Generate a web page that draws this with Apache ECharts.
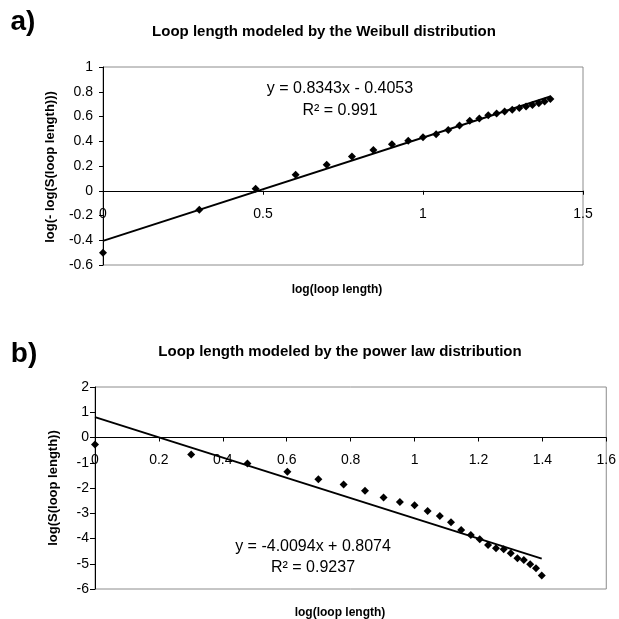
<!DOCTYPE html>
<html>
<head>
<meta charset="utf-8">
<script src="https://cdn.jsdelivr.net/npm/echarts@6/dist/echarts.min.js"></script>
<style>
  html, body { margin: 0; padding: 0; background: #fff; }
  #chart { width: 619px; height: 619px; }
</style>
</head>
<body>
<div id="chart"></div>
<script>
// log(loop length) for each loop length bin
const logLength = [0, 0.301, 0.477, 0.602, 0.699, 0.778, 0.845, 0.903, 0.954, 1.0,
  1.041, 1.079, 1.114, 1.146, 1.176, 1.204, 1.230, 1.255, 1.279, 1.301,
  1.322, 1.342, 1.362, 1.380, 1.398];

// a) log(-log(S)) values
const weibullY = [-0.50, -0.153, 0.016, 0.13, 0.21, 0.277, 0.33, 0.376, 0.405, 0.433,
  0.457, 0.49, 0.527, 0.565, 0.583, 0.61, 0.624, 0.64, 0.655, 0.668,
  0.68, 0.693, 0.707, 0.722, 0.742];

// b) log(S) values
const powerY = [-0.28, -0.67, -1.03, -1.36, -1.65, -1.86, -2.11, -2.38, -2.55, -2.68,
  -2.91, -3.11, -3.36, -3.66, -3.86, -4.03, -4.26, -4.39, -4.43, -4.58,
  -4.78, -4.85, -5.02, -5.18, -5.47];

// trend lines (Excel linear fits)
const fitA = { slope: 0.8343, intercept: -0.4053, r2: "0.991" };
const fitB = { slope: -4.0094, intercept: 0.8074, r2: "0.9237" };

const FONT = "'Liberation Sans', Arial, sans-serif";

const gridA = { left: 103, top: 67, width: 480, height: 198 };
const gridB = { left: 95, top: 387, width: 512, height: 202 };

function trend(fit) {
  const x0 = Math.min(...logLength), x1 = Math.max(...logLength);
  return [[x0, fit.slope * x0 + fit.intercept], [x1, fit.slope * x1 + fit.intercept]];
}

function eqText(fit) {
  const sign = fit.intercept < 0 ? " - " : " + ";
  return "y = " + fit.slope + "x" + sign + Math.abs(fit.intercept);
}

// pull the x axis up from the grid bottom to where y = 0 sits
function zeroOffset(grid, min, max) {
  return -grid.height * (0 - min) / (max - min);
}

function txt(text, x, y, font, rot) {
  return {
    type: "text",
    x: x, y: y,
    rotation: rot || 0,
    style: {
      text: text, x: 0, y: 0, fill: "#000", font: font,
      textAlign: "center", align: "center",
      textVerticalAlign: "middle", verticalAlign: "middle"
    },
    silent: true
  };
}

const axisLabel = { color: "#000", fontSize: 14, fontFamily: FONT };

const chart = echarts.init(document.getElementById("chart"));
chart.setOption({
  animation: false,
  backgroundColor: "#fff",
  grid: [
    Object.assign({ show: true, borderColor: "#8c8c8c", borderWidth: 1 }, gridA),
    Object.assign({ show: true, borderColor: "#8c8c8c", borderWidth: 1 }, gridB)
  ],
  xAxis: [
    {
      gridIndex: 0, type: "value", min: 0, max: 1.5, interval: 0.5,
      position: "bottom", offset: zeroOffset(gridA, -0.6, 1),
      axisLine: { onZero: false, lineStyle: { color: "#000", width: 1 } },
      axisTick: { show: true, length: 4, lineStyle: { color: "#000" } },
      axisLabel: Object.assign({ margin: 16 }, axisLabel),
      splitLine: { show: false }
    },
    {
      gridIndex: 1, type: "value", min: 0, max: 1.6, interval: 0.2,
      position: "bottom", offset: zeroOffset(gridB, -6, 2),
      axisLine: { onZero: false, lineStyle: { color: "#000", width: 1 } },
      axisTick: { show: true, length: 4, lineStyle: { color: "#000" } },
      axisLabel: Object.assign({ margin: 16 }, axisLabel),
      splitLine: { show: false }
    }
  ],
  yAxis: [
    {
      gridIndex: 0, type: "value", min: -0.6, max: 1, interval: 0.2,
      axisLine: { show: true, onZero: false, lineStyle: { color: "#000", width: 1 } },
      axisTick: { show: true, length: 4, lineStyle: { color: "#000" } },
      axisLabel: Object.assign({ margin: 10 }, axisLabel),
      splitLine: { show: false }
    },
    {
      gridIndex: 1, type: "value", min: -6, max: 2, interval: 1,
      axisLine: { show: true, onZero: false, lineStyle: { color: "#000", width: 1 } },
      axisTick: { show: true, length: 5, lineStyle: { color: "#000" } },
      axisLabel: Object.assign({ margin: 6 }, axisLabel),
      splitLine: { show: false }
    }
  ],
  series: [
    {
      type: "scatter", xAxisIndex: 0, yAxisIndex: 0,
      data: logLength.map((x, i) => [x, weibullY[i]]),
      symbol: "diamond", symbolSize: 8, itemStyle: { color: "#000", opacity: 1 }
    },
    {
      type: "line", xAxisIndex: 0, yAxisIndex: 0, data: trend(fitA),
      showSymbol: false, lineStyle: { color: "#000", width: 2 }
    },
    {
      type: "scatter", xAxisIndex: 1, yAxisIndex: 1,
      data: logLength.map((x, i) => [x, powerY[i]]),
      symbol: "diamond", symbolSize: 8, itemStyle: { color: "#000", opacity: 1 }
    },
    {
      type: "line", xAxisIndex: 1, yAxisIndex: 1, data: trend(fitB),
      showSymbol: false, lineStyle: { color: "#000", width: 2 }
    }
  ],
  graphic: [
    txt("a)", 23, 22, "bold 28px " + FONT),
    txt("Loop length modeled by the Weibull distribution", 324, 32, "bold 15px " + FONT),
    txt(eqText(fitA), 340, 89, "16px " + FONT),
    txt("R\u00b2 = " + fitA.r2, 340, 111, "16px " + FONT),
    txt("log(loop length)", 337, 290, "bold 12px " + FONT),
    txt("log(- log(S(loop length)))", 50, 167, "bold 13px " + FONT, Math.PI / 2),

    txt("b)", 24, 354, "bold 28px " + FONT),
    txt("Loop length modeled by the power law distribution", 340, 352, "bold 15px " + FONT),
    txt(eqText(fitB), 313, 547, "16px " + FONT),
    txt("R\u00b2 = " + fitB.r2, 313, 568, "16px " + FONT),
    txt("log(loop length)", 340, 613, "bold 12px " + FONT),
    txt("log(S(loop length))", 53, 488, "bold 13px " + FONT, Math.PI / 2)
  ]
});
</script>
</body>
</html>
